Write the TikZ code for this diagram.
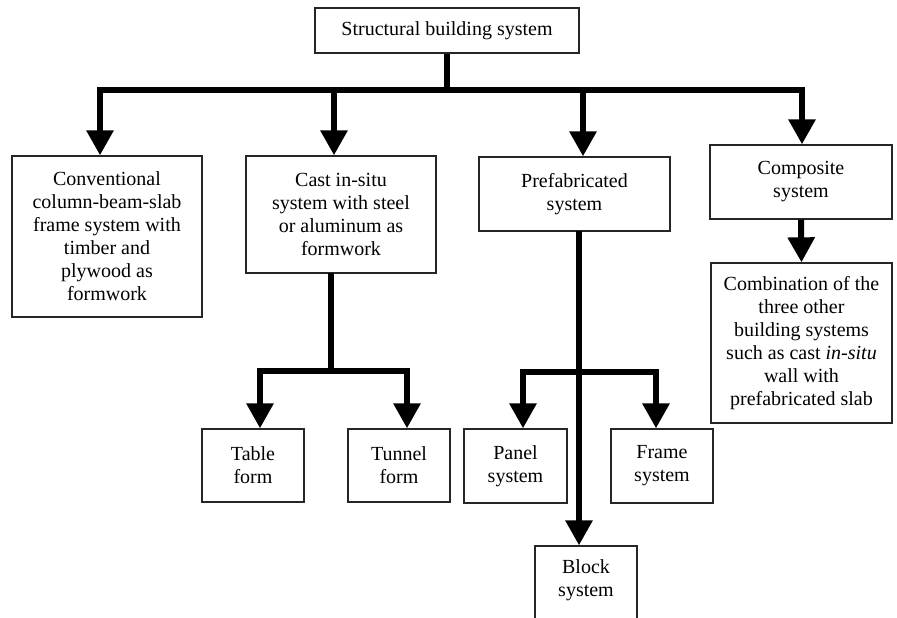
\documentclass[tikz,border=0pt]{standalone}
\usepackage{fontspec}
\setmainfont{Liberation Serif}
\usetikzlibrary{arrows.meta}
\begin{document}
\begin{tikzpicture}[x=1pt,y=-1pt,
  box/.style={draw=black!85,line width=1.3pt,align=center,inner sep=0pt,
    font=\fontsize{20}{23}\selectfont,anchor=center},
  conn/.style={line width=6pt,black},
  arr/.style={conn,-{Triangle[width=26pt,length=25pt]}}]
\useasboundingbox (0,0) rectangle (897,618);
\clip (0,0) rectangle (897,618);
% nodes
\node[box,minimum width=264pt,minimum height=45pt] (top) at (447,30.5) {Structural building system};
\node[box,minimum width=190pt,minimum height=161pt] (conv) at (107,236.5) {Conventional\\column-beam-slab\\frame system with\\timber and\\plywood as\\formwork};
\node[box,minimum width=190pt,minimum height=117pt] (cast) at (341,214.5) {Cast in-situ\\system with steel\\or aluminum as\\formwork};
\node[box,minimum width=191pt,minimum height=74pt] (prefab) at (574.5,194) {Prefabricated\\system};
\node[box,minimum width=182pt,minimum height=74pt] (comp) at (801,182) {Composite\\system};
\node[box,minimum width=181pt,minimum height=160pt] (comb) at (801.5,343) {Combination of the\\three other\\building systems\\such as cast \textit{in-situ}\\wall with\\prefabricated slab};
\node[box,minimum width=102pt,minimum height=73pt] (table) at (253,465.5) {Table\\form};
\node[box,minimum width=102pt,minimum height=73pt] (tunnel) at (399,465.5) {Tunnel\\form};
\node[box,minimum width=103pt,minimum height=74pt] (panel) at (515.5,466) {Panel\\system};
\node[box,minimum width=102pt,minimum height=74pt] (frame) at (662,466) {Frame\\system};
\node[box,minimum width=102pt,minimum height=76pt,text depth=0pt] (block) at (586,584) {\raisebox{25pt}{\begin{tabular}{@{}c@{}}Block\\system\end{tabular}}};
% junction coordinates
\coordinate (j0) at (447,90);
\coordinate (c1) at (100,90);
\coordinate (c2) at (334,90);
\coordinate (c3) at (583,90);
\coordinate (c4) at (802,90);
\coordinate (s1) at (331,273);
\coordinate (j1) at (331,371);
\coordinate (s2) at (579,231);
\coordinate (j2) at (579,372);
% connectors
\draw[conn] (top.south) -- (j0);
\draw[arr] (j0) -| (c1 |- conv.north);
\draw[arr] (j0) -| (c2 |- cast.north);
\draw[arr] (j0) -| (c3 |- prefab.north);
\draw[arr] (j0) -| (c4 |- comp.north);
\draw[arr] (comp.south) -- (comb.north);
\draw[conn] (s1) -- (j1);
\draw[arr] (j1) -| (260,0 |- table.north);
\draw[arr] (j1) -| (407,0 |- tunnel.north);
\draw[arr] (s2) -- (s2 |- block.north);
\draw[arr] (j2) -| (523,0 |- panel.north);
\draw[arr] (j2) -| (656,0 |- frame.north);
\end{tikzpicture}
\end{document}
